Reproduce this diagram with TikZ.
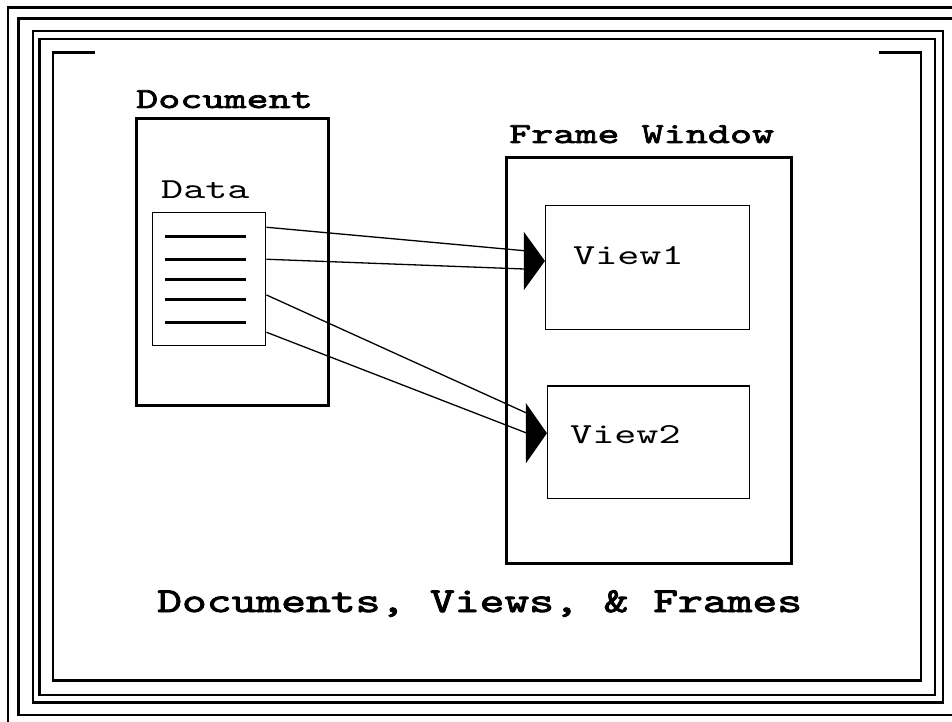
\documentclass[tikz,border=0pt]{standalone}
\usepackage{fontspec}
\newfontfamily\courfont[FakeStretch=1.45,BoldFont=lmmono10-regular.otf,BoldFeatures={FakeBold=2.5}]{lmmono10-regular.otf}
\newfontfamily\capfont[FakeStretch=1.35,BoldFont=lmmono10-regular.otf,BoldFeatures={FakeBold=2.5}]{lmmono10-regular.otf}
\usetikzlibrary{calc, positioning}

\begin{document}
\begin{tikzpicture}[x=1pt,y=-1pt,
  heavybox/.style={draw,line width=3pt,inner sep=0pt},
  lightbox/.style={draw,line width=1.5pt,inner sep=0pt},
  lbl/.style={inner sep=0pt,anchor=base west,font=\courfont\fontsize{29}{29}\selectfont},
  boldlbl/.style={lbl,font=\courfont\bfseries\fontsize{29}{29}\selectfont},
  bar/.style={line width=3pt},
  link/.style={line width=1.3pt},
  rim/.style={line width=2.5pt}]
\useasboundingbox[fill=white] (0,0) rectangle (952,722);
% border lines
\draw[rim] (8,730) -- (8,7.5) -- (960,7.5);
\draw[rim] (960,18.7) -- (18.7,18.7) -- (18.7,715) -- (960,715);
\draw[rim] (33,31) rectangle (943,702.7);
\draw[rim] (39.5,39) rectangle (935,695);
\draw[rim] (95,52.7) -- (53,52.7) -- (53,680.7) -- (921,680.7) -- (921,52.7) -- (879,52.7);
% boxes
\node[heavybox,minimum width=192pt,minimum height=286pt] (doc) at (232,262) {};
\node[lightbox,minimum width=113.4pt,minimum height=133pt] (data) at (209,279.2) {};
\node[heavybox,minimum width=285.5pt,minimum height=405pt] (frame) at (648.75,360.5) {};
\node[lightbox,minimum width=203.6pt,minimum height=123.6pt] (view1) at (647.5,267.5) {};
\node[lightbox,minimum width=201.6pt,minimum height=112.3pt] (view2) at (648.5,442.2) {};
% labels
\node[boldlbl] (doclbl) at (136,108) {Document};
\node[lbl] (datalbl) at (161,198) {Data};
\node[boldlbl] (framelbl) at (509,143) {Frame Window};
\node[lbl] (v1lbl) at (573,264) {View1};
\node[lbl] (v2lbl) at (570,443) {View2};
\node[lbl,font=\capfont\bfseries\fontsize{35}{35}\selectfont] (caption) at (157,612) {Documents, Views, \& Frames};
% text lines in data
\foreach \y in {236,259,279.3,299.3,322}{
  \draw[bar] (165,\y) -- (246,\y);
}
% arrow heads
\coordinate (t1) at ($(view1.west)+(0,-6.5)$);
\coordinate (t2) at ($(view2.west)+(0,-9)$);
\fill (t1) -- ++(-21,-29) -- ++(0,58) -- cycle;
\fill (t2) -- ++(-21,-30) -- ++(0,60) -- cycle;
\coordinate (s1) at ($(data.north east)+(0,15.3)$);
\coordinate (s2) at ($(data.north east)+(0,47.3)$);
\coordinate (s3) at ($(data.north east)+(0,83)$);
\coordinate (s4) at ($(data.north east)+(0,120.3)$);
\coordinate (e1) at ($(t1)+(-20.7,-10.3)$);
\coordinate (e2) at ($(t1)+(-20.7,8)$);
\coordinate (e3) at ($(t2)+(-20.7,-20.3)$);
\coordinate (e4) at ($(t2)+(-20.7,-0.3)$);
\foreach \s/\e in {s1/e1,s2/e2,s3/e3,s4/e4}{
  \draw[link] (\s) -- (\e);
}
\end{tikzpicture}
\end{document}
